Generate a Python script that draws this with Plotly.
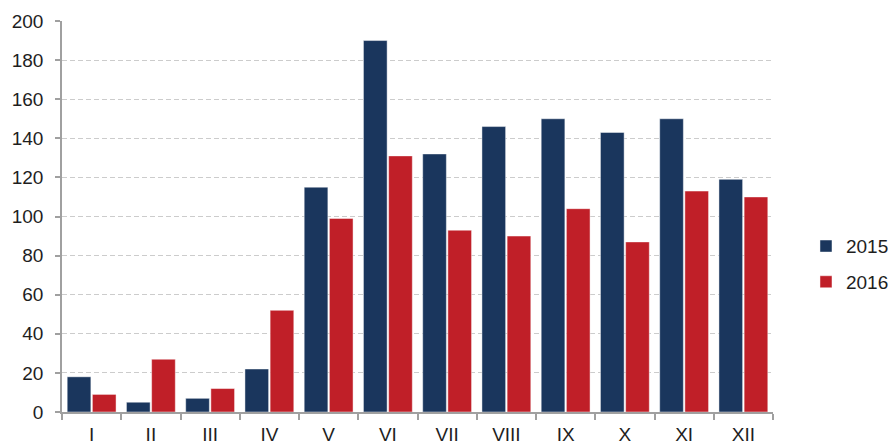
import plotly.graph_objects as go

months = ["I", "II", "III", "IV", "V", "VI", "VII", "VIII", "IX", "X", "XI", "XII"]
values_2015 = [18, 5, 7, 22, 115, 190, 132, 146, 150, 143, 150, 119]
values_2016 = [9, 27, 12, 52, 99, 131, 93, 90, 104, 87, 113, 110]
y_ticks = [0, 20, 40, 60, 80, 100, 120, 140, 160, 180, 200]

font_family = "Liberation Sans, Arial, sans-serif"
fig = go.Figure()
fig.add_trace(go.Bar(x=months, y=values_2015, name="2015", legendgroup="a",
                     marker=dict(color="#1a365d", line=dict(color="rgba(255,255,255,0.45)", width=1))))
fig.add_trace(go.Bar(x=months, y=values_2016, name="2016", legendgroup="b",
                     marker=dict(color="#c01f28", line=dict(color="rgba(255,255,255,0.45)", width=1))))

fig.update_layout(
    width=889, height=445,
    margin=dict(l=62, r=116, t=21, b=33, pad=0, autoexpand=False),
    paper_bgcolor="white", plot_bgcolor="white",
    barmode="group", bargap=0.15, bargroupgap=0.06,
    font=dict(family=font_family, size=19, color="#1e1e1e"),
    legend=dict(x=1.0464, y=0.378, xanchor="left", yanchor="middle",
                font=dict(size=19, color="#1e1e1e"), tracegroupgap=8,
                itemwidth=30, bgcolor="rgba(0,0,0,0)"),
    showlegend=True,
)
fig.update_xaxes(
    type="category", showline=True, linecolor="#a0a0a0", linewidth=1.5,
    ticks="outside", tickson="boundaries", ticklen=6, tickcolor="#a0a0a0", tickwidth=1.5,
    showgrid=False, ticklabelstandoff=4, automargin=False,
    tickfont=dict(size=19, color="#1e1e1e"),
)
fig.update_yaxes(
    range=[0, 200], tickvals=y_ticks, showline=True, linecolor="#a0a0a0", linewidth=1.5,
    ticks="outside", ticklen=5, tickcolor="#a0a0a0", tickwidth=1.5,
    showgrid=True, gridcolor="#cccccc", griddash="5px,3px", gridwidth=1,
    zeroline=False, ticklabelstandoff=8, automargin=False,
    tickfont=dict(size=19, color="#1e1e1e"),
)
fig.write_html("out.html", config={"displayModeBar": False},
               post_script="document.body.style.margin='0';document.body.style.overflow='hidden';")
